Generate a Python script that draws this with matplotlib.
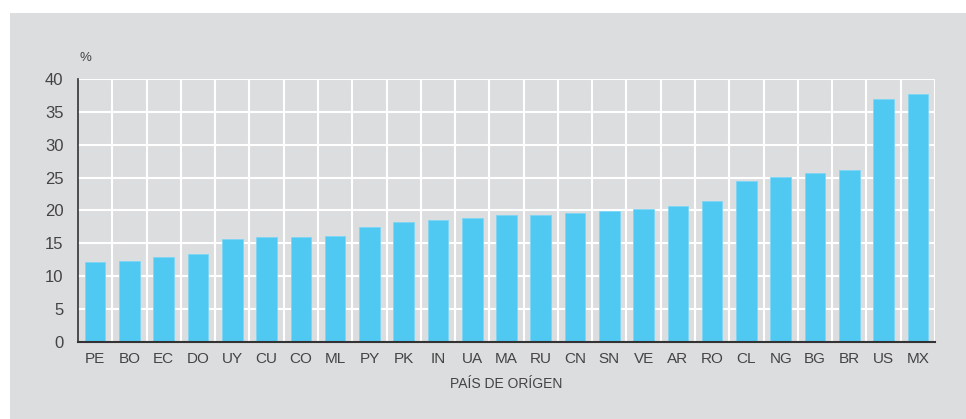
import numpy as np
import matplotlib.pyplot as plt
from matplotlib.patches import Rectangle

paises = ["PE", "BO", "EC", "DO", "UY", "CU", "CO", "ML", "PY", "PK", "IN", "UA", "MA",
          "RU", "CN", "SN", "VE", "AR", "RO", "CL", "NG", "BG", "BR", "US", "MX"]
valores = [12.1, 12.3, 13.0, 13.4, 15.7, 16.0, 16.0, 16.1, 17.5, 18.3, 18.5, 18.9, 19.3,
           19.3, 19.6, 19.9, 20.3, 20.7, 21.5, 24.5, 25.1, 25.75, 26.2, 36.9, 37.7]
y_ticks = [0, 5, 10, 15, 20, 25, 30, 35, 40]

bg = "#dcdddf"
azul = "#4fc8f2"
texto = "#444444"

plt.rcParams['font.family'] = ['Liberation Sans', 'DejaVu Sans']

fig = plt.figure(figsize=(9.66, 4.19), dpi=100)
fig.patch.set_facecolor("white")
# panel gris de fondo
fig.patches.append(Rectangle((10/966, 0), 1 - 10/966, (419-13)/419,
                             transform=fig.transFigure, facecolor=bg, edgecolor="none", zorder=-10))

ax = fig.add_axes([78/966, (419-342)/419, (935-78)/966, (342-79)/419])
ax.set_facecolor(bg)

x = np.arange(len(paises))
ax.bar(x, valores, width=0.6, color=azul, edgecolor="#7fd6f5", linewidth=0.6, zorder=3)

ax.set_xlim(-0.5, len(paises) - 0.5)
ax.set_ylim(0, 40)
ax.set_yticks(y_ticks)
ax.set_xticks(x)
ax.set_xticklabels(paises)

# rejilla blanca: horizontales cada 5, verticales entre barras
for v in y_ticks[1:]:
    ax.axhline(v, color="white", lw=1.5, zorder=1)
for b in np.arange(0.5, len(paises) - 0.5 + 0.01, 1):
    ax.axvline(b, color="white", lw=1.5, zorder=1)

ax.tick_params(axis="y", length=0, labelsize=12, colors=texto, pad=10.5)
ax.tick_params(axis="x", length=0, labelsize=11, colors=texto, pad=7)
for s in ["top", "right"]:
    ax.spines[s].set_visible(False)
ax.spines["left"].set_color("#333333")
ax.spines["bottom"].set_color("#333333")
ax.spines["left"].set_linewidth(1.2)
ax.spines["bottom"].set_linewidth(1.5)
ax.spines["left"].set_zorder(4)
ax.spines["bottom"].set_zorder(4)

ax.set_xlabel("PAÍS DE ORÍGEN", fontsize=10, color=texto, labelpad=8)
fig.text(80/966, 1 - 58/419, "%", fontsize=9.5, color=texto, va="center", ha="left")

fig.savefig("out.png", dpi=100, facecolor=fig.get_facecolor())
